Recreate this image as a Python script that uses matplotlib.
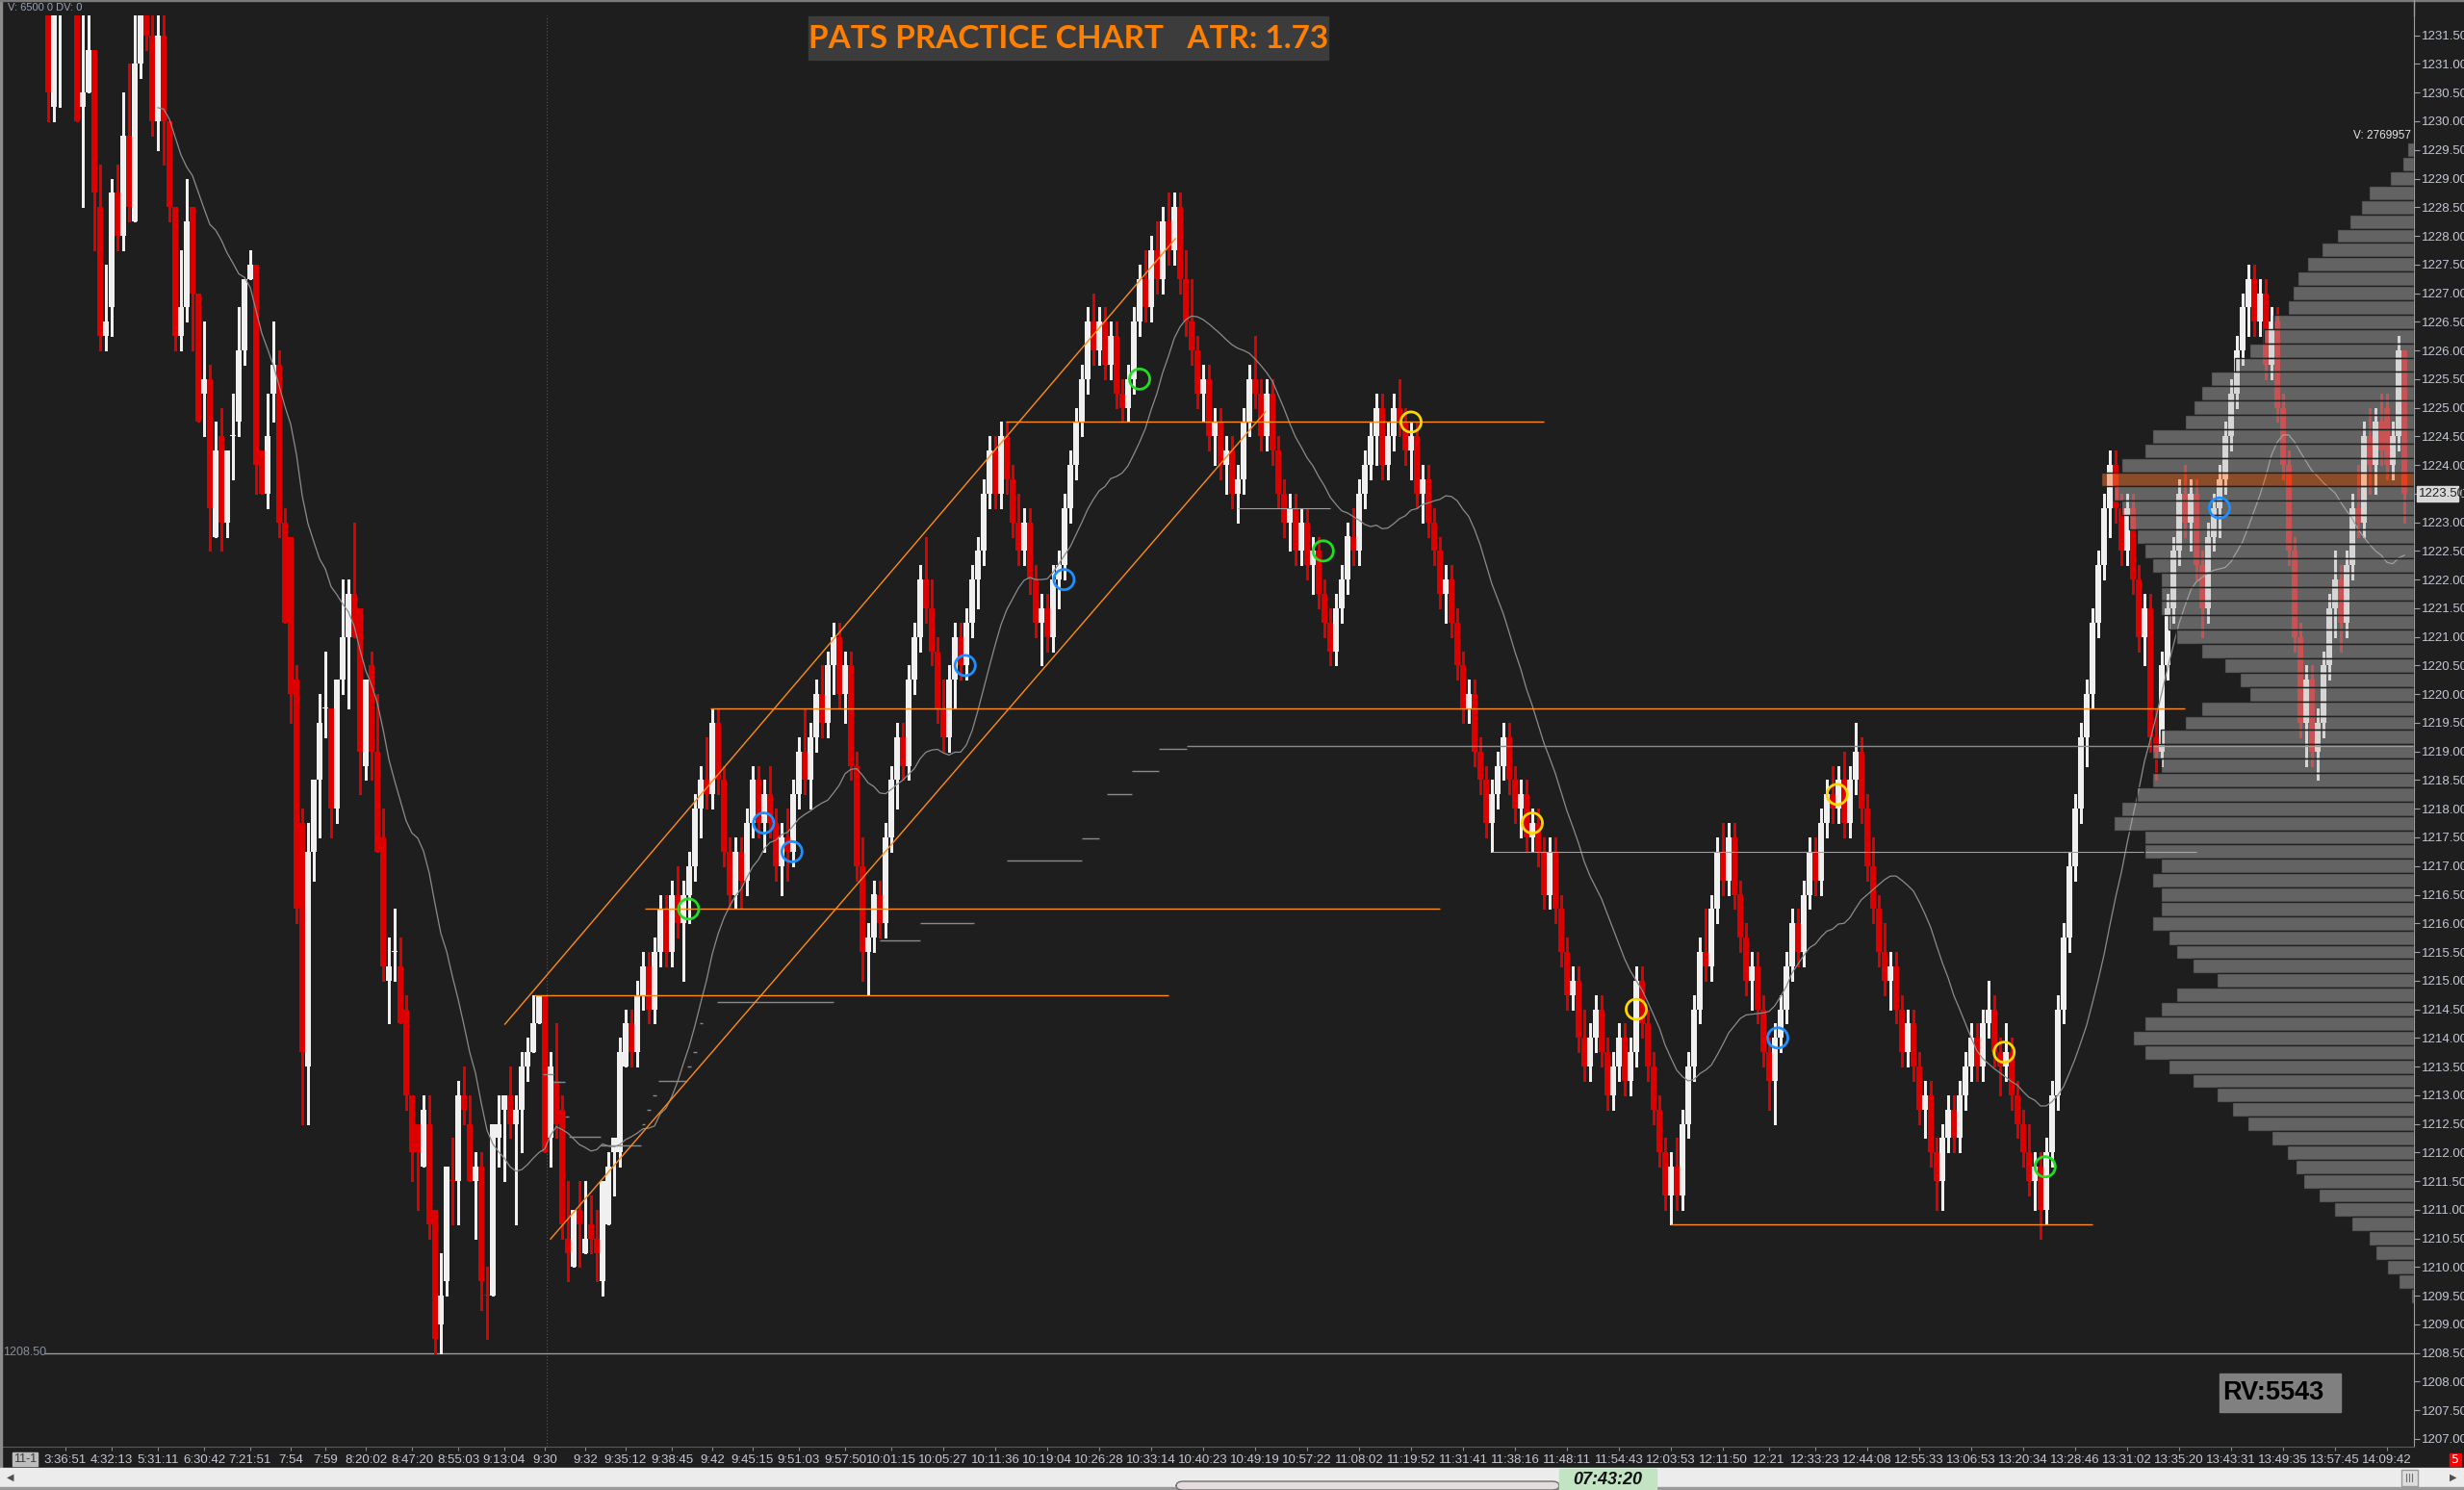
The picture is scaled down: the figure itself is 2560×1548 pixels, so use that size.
import numpy as np
import pandas as pd
import matplotlib
matplotlib.use("Agg")
import matplotlib.pyplot as plt
from matplotlib.patches import Rectangle, FancyBboxPatch

W, H = 2560, 1548
BG = '#1e1e1e'

# ---- candle data (bar index starts at first_bar) ----
first_bar = 8
opens = [1232.25, 1230.25, 1232.0, 1232.5, 1233.0, 1232.5, 1230.25, 1230.5, 1231.25, 1228.5,
         1226.25, 1226.75, 1228.75, 1228.0, 1229.75, 1228.25, 1231.0, 1232.0, 1231.5, 1230.0,
         1231.5, 1230.0, 1228.5, 1226.25, 1226.75, 1228.5, 1227.0, 1225.25, 1225.5, 1222.75,
         1224.5, 1223.0, 1224.5, 1224.75, 1226.0, 1227.25, 1227.5, 1224.25, 1223.5, 1225.25,
         1225.75, 1223.0, 1222.75, 1220.25, 1217.75, 1213.5, 1217.25, 1218.5, 1219.75, 1219.75,
         1218.0, 1220.25, 1221.0, 1221.75, 1221.5, 1218.75, 1220.5, 1219.0, 1217.5, 1215.0,
         1215.5, 1215.25, 1214.5, 1213.0, 1212.5, 1211.75, 1212.5, 1211.0, 1209.0, 1209.75,
         1211.5, 1211.5, 1213.0, 1212.5, 1211.5, 1211.75, 1209.5, 1209.5, 1212.25, 1212.75,
         1213.0, 1212.5, 1212.75, 1213.5, 1213.75, 1214.25, 1214.75, 1212.25, 1213.25, 1212.75,
         1210.5, 1210.0, 1211.0, 1210.25, 1210.75, 1210.5, 1209.75, 1210.75, 1212.0, 1212.0,
         1213.5, 1214.25, 1213.75,
         1214.75, 1215.25, 1214.5, 1215.5, 1216.25, 1215.5, 1216.5, 1216.0, 1216.5, 1217.0,
         1218.0, 1218.5, 1218.25, 1219.5, 1218.5, 1217.25, 1216.5, 1217.25, 1216.75, 1217.75,
         1218.5, 1217.75, 1218.25, 1217.75, 1217.0, 1217.5, 1217.25, 1218.25, 1219.0, 1218.5,
         1219.25, 1220.0, 1219.5, 1220.5, 1221.0, 1220.0, 1220.5, 1218.75, 1217.0, 1215.5,
         1215.75, 1216.5, 1216.0, 1217.5, 1218.5, 1219.25, 1218.75, 1220.25, 1221.0, 1222.0,
         1221.5, 1220.75, 1219.75, 1219.25, 1220.25, 1221.0, 1220.5, 1221.25, 1222.0, 1222.5,
         1223.5, 1224.25, 1223.5, 1224.5, 1223.75, 1223.0, 1222.5, 1223.0, 1222.0, 1221.25,
         1221.5, 1221.0, 1222.0, 1222.25, 1223.25, 1224.0, 1224.75, 1225.5, 1226.5, 1226.0,
         1226.5, 1225.75, 1226.25, 1225.25, 1225.0, 1225.5, 1226.5, 1227.25, 1226.75, 1227.75,
         1227.25, 1228.25, 1227.75, 1228.5, 1227.25, 1226.5, 1226.0, 1225.25, 1225.5, 1224.5,
         1224.75, 1224.0, 1224.25, 1223.5, 1223.75, 1224.75, 1225.5, 1225.25, 1224.5, 1225.25,
         1224.25, 1223.5, 1223.0, 1223.25, 1222.5, 1223.0, 1222.25, 1222.5, 1221.75, 1221.25,
         1220.75, 1221.5, 1222.0, 1222.75, 1222.5, 1223.5, 1224.0, 1224.5, 1225.0, 1224.0,
         1224.5, 1225.0, 1224.75, 1224.25, 1224.5, 1223.5, 1223.75, 1223.0, 1222.5, 1221.75,
         1222.0, 1221.25, 1220.5, 1219.75, 1220.0, 1219.0, 1218.5, 1217.75, 1218.25, 1218.75,
         1219.25, 1218.5, 1218.0, 1218.25, 1217.5, 1217.75, 1217.25, 1216.5, 1217.25, 1216.25,
         1215.5, 1214.75, 1215.0, 1214.0, 1213.5, 1214.0, 1214.5, 1213.75, 1213.0, 1213.5,
         1214.0, 1213.25, 1213.75, 1215.0, 1214.25, 1213.5, 1212.75, 1212.0, 1211.25, 1211.75,
         1211.25, 1212.5, 1213.5, 1214.5, 1215.5, 1215.25, 1216.25, 1217.25, 1216.75, 1217.5,
         1216.5, 1215.75, 1215.0, 1215.25, 1214.5, 1213.75, 1213.25, 1214.0, 1214.5, 1215.25,
         1216.0, 1215.5, 1216.5, 1217.25, 1216.75, 1217.75, 1218.25, 1218.0, 1218.5, 1217.75,
         1218.5, 1219.0, 1218.0, 1217.0, 1216.25, 1215.5, 1215.0, 1215.25, 1214.5, 1213.75,
         1214.25, 1213.5, 1212.75, 1213.0, 1212.0, 1211.5, 1212.25, 1212.75, 1212.25, 1213.0,
         1213.5, 1214.0, 1213.5, 1214.25, 1214.5, 1213.75, 1213.5, 1213.75, 1213.0, 1212.5,
         1212.0, 1211.5, 1211.75, 1211.0, 1212.0, 1213.0, 1214.5, 1215.75, 1217.0, 1218.0,
         1219.25, 1220.0, 1221.25, 1222.25, 1223.25, 1224.0, 1223.25, 1222.5, 1223.25, 1222.0,
         1221.0, 1221.5, 1219.25, 1219.0, 1220.5, 1221.5, 1222.5, 1223.5, 1223.0, 1223.5,
         1222.25, 1221.5, 1222.75, 1223.25, 1223.75, 1224.5, 1225.25, 1226.0, 1226.75, 1227.25,
         1226.5, 1227.0, 1225.75, 1226.5, 1225.0, 1224.0, 1222.5, 1221.0, 1219.5, 1220.25,
         1219.0, 1219.5, 1220.5, 1221.5, 1222.0, 1221.25, 1222.25, 1223.25, 1223.0, 1224.5,
         1224.0, 1224.75, 1225.0, 1224.0, 1224.5, 1226.0]
highs = [1232.5, 1232.25, 1232.75, 1233.25, 1233.25, 1232.75, 1232.0, 1232.0, 1231.25, 1229.25,
         1227.5, 1229.0, 1229.25, 1230.5, 1231.0, 1232.0, 1232.25, 1232.25, 1232.0, 1232.0,
         1232.0, 1230.0, 1228.5, 1227.75, 1229.0, 1228.5, 1227.0, 1226.5, 1225.75, 1224.75,
         1225.0, 1224.25, 1225.25, 1226.75, 1227.25, 1227.75, 1227.5, 1224.25, 1225.25, 1226.5,
         1226.0, 1223.25, 1222.75, 1220.5, 1218.0, 1217.75, 1218.5, 1220.0, 1220.75, 1219.75,
         1220.25, 1222.0, 1222.0, 1223.0, 1221.5, 1220.25, 1220.75, 1220.0, 1218.0, 1215.75,
         1216.25, 1215.75, 1214.75, 1213.0, 1212.5, 1213.0, 1213.0, 1211.0, 1210.25, 1211.75,
         1212.25, 1213.25, 1213.5, 1213.0, 1212.0, 1212.0, 1210.0, 1212.5, 1213.0, 1213.0,
         1213.5, 1213.0, 1213.75, 1214.0, 1214.75, 1214.75, 1214.75, 1213.75, 1214.25, 1213.0,
         1211.5, 1211.0, 1211.5, 1211.5, 1211.25, 1211.0, 1211.5, 1212.0, 1212.25, 1214.0,
         1214.5, 1214.5, 1215.0,
         1215.5, 1215.5, 1215.75, 1216.5, 1216.5, 1216.75, 1217.0, 1216.75, 1217.25, 1218.25,
         1218.75, 1219.25, 1219.75, 1219.75, 1218.75, 1217.5, 1217.5, 1217.5, 1218.0, 1218.75,
         1218.75, 1218.5, 1218.75, 1218.0, 1217.75, 1218.0, 1218.5, 1219.25, 1219.75, 1219.5,
         1220.25, 1220.5, 1220.75, 1221.25, 1221.25, 1220.75, 1220.75, 1219.0, 1217.5, 1216.0,
         1216.75, 1216.75, 1217.75, 1218.75, 1219.5, 1219.5, 1220.5, 1221.25, 1222.25, 1222.75,
         1222.0, 1221.0, 1220.25, 1220.5, 1221.25, 1221.25, 1221.5, 1222.25, 1222.75, 1223.75,
         1224.5, 1224.5, 1224.75, 1224.75, 1224.0, 1223.5, 1223.25, 1223.25, 1222.25, 1221.75,
         1221.75, 1222.25, 1222.5, 1223.5, 1224.25, 1225.0, 1225.75, 1226.75, 1227.0, 1226.75,
         1226.75, 1226.5, 1226.5, 1225.5, 1225.75, 1226.75, 1227.5, 1227.75, 1228.0, 1228.25,
         1228.5, 1228.75, 1228.75, 1228.75, 1227.75, 1227.25, 1226.25, 1225.75, 1225.75, 1225.0,
         1225.0, 1224.5, 1224.5, 1224.0, 1225.0, 1225.75, 1226.25, 1225.5, 1225.5, 1225.5,
         1224.5, 1223.75, 1223.5, 1223.5, 1223.25, 1223.25, 1222.75, 1222.75, 1222.0, 1221.5,
         1221.75, 1222.25, 1223.0, 1223.25, 1223.75, 1224.25, 1224.75, 1225.25, 1225.25, 1224.75,
         1225.25, 1225.5, 1225.0, 1224.75, 1224.75, 1224.0, 1224.0, 1223.25, 1222.75, 1222.25,
         1222.25, 1221.5, 1220.75, 1220.25, 1220.25, 1219.25, 1218.75, 1218.5, 1219.0, 1219.5,
         1219.5, 1218.75, 1218.5, 1218.5, 1218.0, 1218.0, 1217.5, 1217.5, 1217.5, 1216.5,
         1215.75, 1215.25, 1215.25, 1214.5, 1214.25, 1214.75, 1214.75, 1214.0, 1213.75, 1214.25,
         1214.25, 1214.0, 1215.25, 1215.25, 1214.5, 1213.75, 1213.0, 1212.25, 1212.0, 1212.25,
         1212.75, 1213.75, 1214.75, 1215.75, 1216.25, 1216.5, 1217.5, 1217.75, 1217.75, 1217.75,
         1216.75, 1216.0, 1215.5, 1215.5, 1214.75, 1214.0, 1214.25, 1214.75, 1215.5, 1216.25,
         1216.25, 1216.75, 1217.5, 1217.5, 1218.0, 1218.5, 1218.75, 1218.75, 1219.0, 1218.75,
         1219.5, 1219.25, 1218.25, 1217.5, 1216.5, 1216.0, 1215.5, 1215.5, 1214.75, 1214.5,
         1214.5, 1213.75, 1213.25, 1213.25, 1212.25, 1212.5, 1213.0, 1213.0, 1213.25, 1213.75,
         1214.25, 1214.25, 1214.5, 1215.0, 1214.75, 1214.0, 1214.25, 1214.0, 1213.25, 1212.75,
         1212.5, 1212.0, 1212.0, 1212.25, 1213.25, 1214.75, 1216.0, 1217.25, 1218.25, 1219.5,
         1220.25, 1221.5, 1222.5, 1223.5, 1224.25, 1224.25, 1223.5, 1223.5, 1223.5, 1222.25,
         1221.75, 1221.75, 1219.75, 1220.75, 1221.75, 1222.75, 1223.75, 1224.0, 1223.75, 1223.75,
         1222.5, 1223.0, 1223.5, 1224.0, 1224.75, 1225.5, 1226.25, 1227.0, 1227.5, 1227.5,
         1227.25, 1227.25, 1226.75, 1226.75, 1225.25, 1224.25, 1222.75, 1221.25, 1220.5, 1220.5,
         1219.75, 1220.75, 1221.75, 1222.5, 1222.25, 1222.5, 1223.5, 1224.0, 1224.75, 1225.0,
         1225.0, 1225.25, 1225.25, 1224.75, 1226.25, 1226.0]
lows = [1230.0, 1230.0, 1230.25, 1232.25, 1232.25, 1230.0, 1228.5, 1230.5, 1227.75, 1226.0,
        1226.0, 1226.25, 1227.75, 1227.75, 1228.25, 1228.25, 1230.75, 1231.25, 1229.75, 1229.5,
        1229.25, 1228.25, 1226.0, 1226.0, 1226.5, 1226.0, 1224.75, 1224.5, 1222.5, 1222.75,
        1222.5, 1222.75, 1223.75, 1224.5, 1225.75, 1227.25, 1223.5, 1223.5, 1223.25, 1224.75,
        1222.75, 1221.25, 1219.5, 1216.0, 1212.5, 1212.5, 1216.75, 1217.5, 1219.25, 1217.5,
        1217.75, 1220.0, 1219.75, 1221.0, 1218.25, 1218.5, 1218.5, 1217.25, 1215.0, 1214.25,
        1215.0, 1214.25, 1212.75, 1211.5, 1211.0, 1211.75, 1210.5, 1208.5, 1208.5, 1209.5,
        1210.75, 1210.75, 1212.5, 1211.5, 1210.5, 1209.25, 1208.75, 1209.5, 1211.75, 1211.5,
        1212.25, 1210.75, 1212.0, 1213.25, 1213.75, 1214.25, 1212.0, 1211.75, 1212.25, 1210.5,
        1209.75, 1210.0, 1210.0, 1210.25, 1210.25, 1209.75, 1209.5, 1210.75, 1211.25, 1211.75,
        1213.5, 1213.5, 1213.5,
        1214.5, 1214.25, 1214.25, 1215.25, 1215.25, 1215.25, 1215.75, 1215.0, 1216.0, 1216.75,
        1217.5, 1218.0, 1218.0, 1218.25, 1217.0, 1216.25, 1216.25, 1216.25, 1216.5, 1217.5,
        1217.5, 1217.25, 1217.5, 1216.75, 1216.5, 1216.75, 1217.0, 1218.0, 1218.25, 1218.0,
        1219.0, 1219.25, 1219.25, 1220.0, 1219.75, 1219.5, 1218.5, 1216.75, 1215.0, 1214.75,
        1215.5, 1215.75, 1215.75, 1217.25, 1218.0, 1218.5, 1218.5, 1220.0, 1220.75, 1221.25,
        1220.5, 1219.5, 1219.0, 1219.0, 1219.75, 1220.25, 1220.25, 1221.0, 1221.5, 1222.25,
        1223.25, 1223.25, 1223.25, 1223.5, 1222.75, 1222.25, 1222.25, 1221.75, 1221.0, 1220.5,
        1220.75, 1220.75, 1221.5, 1222.0, 1223.0, 1223.75, 1224.5, 1225.25, 1225.75, 1225.75,
        1225.5, 1225.5, 1225.0, 1224.75, 1224.75, 1225.25, 1226.25, 1226.5, 1226.5, 1227.0,
        1227.0, 1227.5, 1227.5, 1227.0, 1226.25, 1225.75, 1225.0, 1224.75, 1224.25, 1224.0,
        1223.75, 1223.5, 1223.25, 1223.0, 1223.5, 1224.5, 1225.0, 1224.25, 1224.25, 1224.0,
        1223.25, 1222.75, 1222.5, 1222.25, 1222.25, 1222.0, 1221.75, 1221.5, 1221.0, 1220.5,
        1220.5, 1221.25, 1221.75, 1222.25, 1222.25, 1223.25, 1223.75, 1224.0, 1223.75, 1223.75,
        1224.25, 1224.5, 1224.0, 1223.75, 1223.25, 1223.0, 1222.75, 1222.25, 1221.5, 1221.25,
        1221.0, 1220.25, 1219.5, 1219.5, 1218.75, 1218.25, 1217.5, 1217.25, 1218.0, 1218.5,
        1218.25, 1217.75, 1217.5, 1217.25, 1217.25, 1217.0, 1216.25, 1216.25, 1216.0, 1215.25,
        1214.5, 1214.5, 1213.75, 1213.25, 1213.25, 1213.75, 1213.5, 1212.75, 1212.75, 1213.25,
        1213.0, 1213.0, 1213.5, 1214.0, 1213.25, 1212.5, 1211.75, 1211.0, 1210.75, 1211.0,
        1211.0, 1212.25, 1213.25, 1214.25, 1215.0, 1215.0, 1216.0, 1216.5, 1216.5, 1216.25,
        1215.5, 1214.75, 1214.5, 1214.25, 1213.5, 1212.75, 1212.5, 1213.75, 1214.25, 1215.0,
        1215.25, 1215.25, 1216.25, 1216.5, 1216.5, 1217.5, 1217.75, 1217.75, 1217.5, 1217.5,
        1218.25, 1217.75, 1216.75, 1216.0, 1215.25, 1214.75, 1214.5, 1214.25, 1213.5, 1213.5,
        1213.25, 1212.5, 1212.25, 1211.75, 1211.0, 1211.0, 1212.0, 1212.0, 1212.0, 1212.75,
        1213.25, 1213.25, 1213.25, 1214.0, 1213.5, 1213.0, 1213.25, 1212.75, 1212.25, 1211.75,
        1211.25, 1211.0, 1210.5, 1210.75, 1211.75, 1212.75, 1214.25, 1215.5, 1216.75, 1217.75,
        1218.75, 1219.75, 1221.0, 1222.0, 1222.75, 1223.0, 1222.25, 1222.25, 1221.75, 1220.75,
        1220.5, 1219.0, 1218.5, 1218.75, 1220.25, 1221.25, 1222.25, 1222.75, 1222.5, 1222.0,
        1221.0, 1221.25, 1222.5, 1222.75, 1223.5, 1224.25, 1225.0, 1225.75, 1226.25, 1226.25,
        1226.25, 1225.5, 1225.5, 1224.75, 1223.75, 1222.25, 1220.75, 1219.25, 1218.75, 1218.75,
        1218.5, 1219.25, 1220.25, 1221.0, 1220.75, 1221.0, 1222.0, 1222.75, 1222.75, 1223.5,
        1223.5, 1224.0, 1223.75, 1223.75, 1224.25, 1223.0]
closes = [1230.5, 1232.0, 1232.5, 1233.0, 1232.5, 1230.0, 1230.5, 1231.25, 1228.75, 1226.25,
          1226.5, 1228.75, 1228.0, 1229.75, 1228.5, 1231.0, 1232.0, 1231.5, 1230.0, 1231.5,
          1230.0, 1228.5, 1226.25, 1226.75, 1228.25, 1227.0, 1224.75, 1225.5, 1223.25, 1224.25,
          1223.0, 1224.25, 1224.5, 1226.0, 1227.25, 1227.5, 1224.0, 1223.5, 1224.5, 1225.75,
          1223.0, 1221.25, 1220.0, 1216.25, 1213.75, 1217.25, 1218.5, 1219.5, 1219.75, 1218.0,
          1220.25, 1221.0, 1221.75, 1221.0, 1219.0, 1220.25, 1219.0, 1217.25, 1215.25, 1215.25,
          1215.5, 1214.25, 1213.0, 1212.0, 1212.0, 1212.75, 1210.75, 1208.75, 1209.5, 1211.75,
          1211.5, 1213.0, 1212.75, 1211.5, 1211.75, 1209.75, 1209.5, 1212.5, 1212.5, 1213.0,
          1212.5, 1212.75, 1213.5, 1213.75, 1214.25, 1214.75, 1212.0, 1213.5, 1212.5, 1210.75,
          1210.25, 1211.0, 1210.75, 1210.5, 1210.5, 1210.25, 1211.5, 1211.75, 1212.25, 1213.75,
          1214.25, 1213.75, 1214.75,
          1215.25, 1214.5, 1215.5, 1216.25, 1215.5, 1216.5, 1216.0, 1216.5, 1217.0, 1218.0,
          1218.5, 1218.25, 1219.5, 1218.5, 1217.25, 1216.5, 1217.25, 1216.75, 1217.75, 1218.5,
          1217.75, 1218.25, 1217.75, 1217.0, 1217.5, 1217.25, 1218.25, 1219.0, 1218.5, 1219.25,
          1220.0, 1219.5, 1220.5, 1221.0, 1220.0, 1220.5, 1218.75, 1217.0, 1215.5, 1215.75,
          1216.5, 1216.0, 1217.5, 1218.5, 1219.25, 1218.75, 1220.25, 1221.0, 1222.0, 1221.5,
          1220.75, 1219.75, 1219.25, 1220.25, 1221.0, 1220.5, 1221.25, 1222.0, 1222.5, 1223.5,
          1224.25, 1223.5, 1224.5, 1223.75, 1223.0, 1222.5, 1223.0, 1222.0, 1221.25, 1221.5,
          1221.0, 1222.0, 1222.25, 1223.25, 1224.0, 1224.75, 1225.5, 1226.5, 1226.0, 1226.5,
          1225.75, 1226.25, 1225.25, 1225.0, 1225.5, 1226.5, 1227.25, 1226.75, 1227.75, 1227.25,
          1228.25, 1227.75, 1228.5, 1227.25, 1226.5, 1226.0, 1225.25, 1225.5, 1224.5, 1224.75,
          1224.0, 1224.25, 1223.5, 1223.75, 1224.75, 1225.5, 1225.25, 1224.5, 1225.25, 1224.25,
          1223.5, 1223.0, 1223.25, 1222.5, 1223.0, 1222.25, 1222.5, 1221.75, 1221.25, 1220.75,
          1221.5, 1222.0, 1222.75, 1222.5, 1223.5, 1224.0, 1224.5, 1225.0, 1224.0, 1224.5,
          1225.0, 1224.75, 1224.25, 1224.5, 1223.5, 1223.75, 1223.0, 1222.5, 1221.75, 1222.0,
          1221.25, 1220.5, 1219.75, 1220.0, 1219.0, 1218.5, 1217.75, 1218.25, 1218.75, 1219.25,
          1218.5, 1218.0, 1218.25, 1217.5, 1217.75, 1217.25, 1216.5, 1217.25, 1216.25, 1215.5,
          1214.75, 1215.0, 1214.0, 1213.5, 1214.0, 1214.5, 1213.75, 1213.0, 1213.5, 1214.0,
          1213.25, 1213.75, 1215.0, 1214.25, 1213.5, 1212.75, 1212.0, 1211.25, 1211.75, 1211.25,
          1212.5, 1213.5, 1214.5, 1215.5, 1215.25, 1216.25, 1217.25, 1216.75, 1217.5, 1216.5,
          1215.75, 1215.0, 1215.25, 1214.5, 1213.75, 1213.25, 1214.0, 1214.5, 1215.25, 1216.0,
          1215.5, 1216.5, 1217.25, 1216.75, 1217.75, 1218.25, 1218.0, 1218.5, 1217.75, 1218.5,
          1219.0, 1218.0, 1217.0, 1216.25, 1215.5, 1215.0, 1215.25, 1214.5, 1213.75, 1214.25,
          1213.5, 1212.75, 1213.0, 1212.0, 1211.5, 1212.25, 1212.75, 1212.25, 1213.0, 1213.5,
          1214.0, 1213.5, 1214.25, 1214.5, 1213.75, 1213.5, 1213.75, 1213.0, 1212.5, 1212.0,
          1211.5, 1211.75, 1211.0, 1212.0, 1213.0, 1214.5, 1215.75, 1217.0, 1218.0, 1219.25,
          1220.0, 1221.25, 1222.25, 1223.25, 1224.0, 1223.25, 1222.5, 1223.25, 1222.0, 1221.0,
          1221.5, 1219.25, 1219.0, 1220.5, 1221.5, 1222.5, 1223.5, 1223.0, 1223.5, 1222.25,
          1221.5, 1222.75, 1223.25, 1223.75, 1224.5, 1225.25, 1226.0, 1226.75, 1227.25, 1226.5,
          1227.0, 1225.75, 1226.5, 1225.0, 1224.0, 1222.5, 1221.0, 1219.5, 1220.25, 1219.0,
          1219.5, 1220.5, 1221.5, 1222.0, 1221.25, 1222.25, 1223.25, 1223.0, 1224.5, 1224.0,
          1224.75, 1224.25, 1224.0, 1224.5, 1226.0, 1223.5]
red_dojis = [78, 84]

# ---- time axis ----
tick_bars = [11, 19, 27, 35, 43, 50, 56, 63, 71, 79, 87, 94, 101, 108, 116, 123, 130, 138, 146,
             154, 163, 172, 181, 190, 199, 208, 217, 226, 235, 244, 253, 262, 271, 280, 289,
             298, 306, 314, 323, 332, 341, 350, 359, 368, 377, 386, 395, 404, 413]
tick_labels = ['3:36:51', '4:32:13', '5:31:11', '6:30:42', '7:21:51', '7:54', '7:59', '8:20:02',
               '8:47:20', '8:55:03', '9:13:04', '9:30', '9:32', '9:35:12', '9:38:45', '9:42',
               '9:45:15', '9:51:03', '9:57:50', '10:01:15', '10:05:27', '10:11:36', '10:19:04',
               '10:26:28', '10:33:14', '10:40:23', '10:49:19', '10:57:22', '11:08:02', '11:19:52',
               '11:31:41', '11:38:16', '11:48:11', '11:54:43', '12:03:53', '12:11:50', '12:21',
               '12:33:23', '12:44:08', '12:55:33', '13:06:53', '13:20:34', '13:28:46', '13:31:02',
               '13:35:20', '13:43:31', '13:49:35', '13:57:45', '14:09:42']
session_bar = 94.4

# ---- volume profile (top level 1229.50, step 0.25 down) ----
profile_top = 1229.5
profile_vol = [7, 12, 25, 47, 55, 67, 80, 95, 110, 120, 125, 130, 145, 155, 170, 185, 210, 220,
               228, 237, 270, 278, 302, 323, 310, 302, 294, 286, 278, 270, 261, 261, 261, 253,
               245, 220, 196, 180, 170, 220, 237, 261, 270, 261, 270, 286, 302, 310, 278, 278,
               261, 270, 261, 261, 270, 253, 245, 229, 204, 245, 261, 278, 290, 278, 253, 229,
               204, 188, 172, 147, 131, 122, 114, 98, 82, 65, 47, 40, 28, 16, 3]
poc_price = 1223.75

# ---- drawn objects ----
orange_levels = [(92.2, 202, 1214.75), (111.3, 249, 1216.25), (122.7, 378, 1219.75),
                 (173.8, 267, 1224.75), (289, 362, 1210.75)]
grey_levels = [(258, 380, 1217.25), (214, 230, 1223.25)]
ladder = [(93.7, 95.5, 1213.37), (95.5, 97.5, 1213.24), (97.5, 98.2, 1212.63),
          (98.2, 103.6, 1212.27), (103.7, 110.7, 1212.13), (110.8, 111.4, 1212.5),
          (111.7, 112.3, 1212.75), (112.7, 113.3, 1213.0), (113.7, 118.5, 1213.25),
          (118.7, 119.3, 1213.5), (119.7, 120.3, 1213.75), (120.8, 121.4, 1214.25),
          (123.8, 144.0, 1214.63), (152.0, 159.0, 1215.7), (159.0, 168.4, 1216.0),
          (174.0, 187.0, 1217.1), (187.0, 190.0, 1217.48), (191.3, 195.6, 1218.25),
          (195.6, 200.3, 1218.66), (200.3, 205.2, 1219.05), (205.2, 417.7, 1219.1)]
channel = [((87.1, 1214.24), (203.2, 1227.95)), ((95.0, 1210.49), (218.8, 1224.93))]
circle_n = [118.9, 197, 228.8, 353.8, 131.9, 136.8, 166.8, 183.9, 307.5, 384,
            244, 265, 283, 317.8, 346.7]
circle_p = [1216.25, 1225.5, 1222.5, 1211.75, 1217.75, 1217.25, 1220.5, 1222.0, 1214.0, 1223.25,
            1224.75, 1217.75, 1214.5, 1218.25, 1213.75]
circle_c = ['#22dd22'] * 4 + ['#1e90ff'] * 6 + ['#ffd700'] * 5


def fx(x):
    return x / W


def fy(y):
    return 1 - y / H


fig = plt.figure(figsize=(W / 100, H / 100), dpi=100)
fig.patch.set_facecolor(BG)
ax = fig.add_axes([2 / W, 45 / H, 2506 / W, 1487 / H])
ax.set_facecolor(BG)
xr = 2506 / 6
ax.set_xlim(0, xr)
ax.set_ylim(1231.5 - (1503 - 36.7) / 59.52, 1231.5 + (36.7 - 16) / 59.52)

# candles
o = np.array(opens)
h = np.array(highs)
l = np.array(lows)
c = np.array(closes)
idx = np.arange(first_bar, first_bar + len(c))
cols = np.where(c >= o, '#f0f0f0', '#dc0000').astype(object)
for k in red_dojis:
    cols[k - first_bar] = '#dc0000'
ax.vlines(idx, l, h, colors=list(cols), lw=0.75, zorder=2, antialiased=False)
ax.bar(idx, np.maximum(np.abs(c - o), 0.02), bottom=np.minimum(o, c), width=0.86,
       color=list(cols), lw=0, zorder=3, antialiased=False)

# moving average
sma = pd.Series(c).rolling(20).mean()
ax.plot(idx, sma, color='#8c8c8c', lw=0.9, zorder=4)

# session line
ax.axvline(session_bar, color='#5a5a5a', lw=0.8, ls=(0, (1, 2)), zorder=1)

# levels
ax.hlines(1208.5, 44 / 6, xr, color='#9a9a9a', lw=1, zorder=1)
for a, b, p in ladder:
    ax.hlines(p, a, b, color='#8a8a8a', lw=1, zorder=4)
for a, b, p in orange_levels:
    ax.hlines(p, a, b, color='#ff8c1a', lw=1, zorder=5)
for a, b, p in grey_levels:
    ax.hlines(p, a, b, color='#a0a0a0', lw=0.8, zorder=5)
for (a, pa), (b, pb) in channel:
    ax.plot([a, b], [pa, pb], color='#ff8c1a', lw=1, zorder=5)

# volume profile (semi-transparent, over the candles)
levels = profile_top - 0.25 * np.arange(len(profile_vol))
vol = np.array(profile_vol, dtype=float)
lens = vol / vol.max() * 325 / 6
pcol = [(248 / 255, 122 / 255, 54 / 255, 0.5) if abs(p - poc_price) < 1e-6
        else (0.72, 0.72, 0.72, 0.45) for p in levels]
ax.barh(levels, -lens, left=xr, height=0.25, color=pcol, edgecolor='#222222', lw=1, zorder=6)

# signal circles
ax.scatter(circle_n, circle_p, s=230, facecolors='none', edgecolors=circle_c, linewidths=2,
           zorder=7)

# axes styling
for s in ['left', 'top']:
    ax.spines[s].set_visible(False)
ax.spines['right'].set_color('#a0a0a0')
ax.spines['bottom'].set_color('#5a5a5a')
yt = np.arange(1207.0, 1231.51, 0.5)
ax.set_yticks(yt)
ax.set_yticklabels(['%.2f' % v for v in yt])
ax.yaxis.tick_right()
ax.tick_params(axis='y', direction='out', length=4, color='#a0a0a0', labelcolor='#c4c8d4',
               labelsize=9.5, pad=2)
ax.set_xticks(tick_bars)
ax.set_xticklabels(tick_labels)
ax.tick_params(axis='x', direction='out', length=3, color='#8a8a8a', labelcolor='#c4c8d4',
               labelsize=9.5, pad=3)
for lbl in ax.get_xticklabels() + ax.get_yticklabels():
    lbl.set_family(['Liberation Sans Narrow', 'Liberation Sans', 'DejaVu Sans'])

# current price tag
tag_y = 36.7 + (1231.5 - 1223.5) * 59.52
fig.patches.append(Rectangle((fx(2511), fy(tag_y + 8)), 43 / W, 16 / H, transform=fig.transFigure,
                             color='#d8d8d8', zorder=5))
fig.text(fx(2513), fy(tag_y), '1223.50', color='#202020', fontsize=9.5, va='center',
         family=['Liberation Sans Narrow', 'Liberation Sans'], zorder=6)

# frame borders
fig.patches.append(Rectangle((0, 0), 2 / W, 1, transform=fig.transFigure, color='#8c8c8c'))
fig.patches.append(Rectangle((0, fy(1)), 1, 1 / H, transform=fig.transFigure, color='#7a7a7a'))
fig.lines.append(plt.Line2D([fx(2508), fx(2508)], [fy(0), fy(16)], transform=fig.transFigure,
                            color='#a0a0a0', lw=1))

# texts
fig.text(fx(8), fy(8), 'V: 6500 0 DV: 0', color='#9aa2b4', fontsize=8, va='center',
         family=['Liberation Sans'])
fig.text(fx(3), fy(1405), '1208.50', color='#8890a0', fontsize=9, va='center',
         family=['Liberation Sans Narrow', 'Liberation Sans'])
fig.text(fx(2445), fy(141), 'V: 2769957', color='#e6e6e6', fontsize=8.5, va='center',
         family=['Liberation Sans'])

fig.patches.append(Rectangle((fx(840), fy(62)), 540 / W, 45 / H, transform=fig.transFigure,
                             color='#3c3c3c'))
fig.text(fx(1110), fy(40), 'PATS PRACTICE CHART   ATR: 1.73', color='#ff8000', fontsize=24,
         fontweight='bold', family=['Lato', 'DejaVu Sans'], ha='center', va='center')

fig.patches.append(Rectangle((fx(2306), fy(1467)), 126 / W, 40 / H, transform=fig.transFigure,
                             color='#808080'))
fig.text(fx(2309), fy(1447), 'RV:5543', color='#000000', fontsize=19.5, fontweight='bold',
         va='center', family=['Liberation Sans'])

# bottom bar
fig.patches.append(Rectangle((fx(13), fy(1523)), 26 / W, 14 / H, transform=fig.transFigure,
                             color='#bdbdbd'))
fig.text(fx(26), fy(1516), '11-1', color='#3a3a3a', fontsize=9, ha='center', va='center',
         family=['Liberation Sans Narrow', 'Liberation Sans'])
fig.patches.append(Rectangle((fx(2545), fy(1523)), 12 / W, 13 / H, transform=fig.transFigure,
                             color='#ff0000'))
fig.text(fx(2551), fy(1516), '5', color='#ffffff', fontsize=9, ha='center', va='center')
fig.patches.append(Rectangle((0, 0), 1, 23 / H, transform=fig.transFigure, color='#ececec'))
fig.patches.append(Rectangle((0, 0), 1, 3 / H, transform=fig.transFigure, color='#9a9a9a'))
fig.text(fx(11), fy(1535), '\u25c0', color='#505050', fontsize=7, ha='center', va='center')
fig.text(fx(2549), fy(1535), '\u25b6', color='#505050', fontsize=7, ha='center', va='center')
fig.patches.append(FancyBboxPatch((fx(1222), fy(1548)), (1620 - 1222) / W, 9 / H,
                                  boxstyle='round,pad=0,rounding_size=0.003',
                                  transform=fig.transFigure, facecolor='#e4dcdc',
                                  edgecolor='#6e6e6e', lw=1))
fig.patches.append(Rectangle((fx(1620), fy(1548)), 101 / W, 22 / H, transform=fig.transFigure,
                             color='#c2e4c2'))
fig.text(fx(1670), fy(1538), '07:43:20', color='#111111', fontsize=13, fontweight='bold',
         style='italic', ha='center', va='center', family=['Liberation Sans Narrow', 'Liberation Sans'])
fig.patches.append(Rectangle((fx(2495), fy(1544)), 17 / W, 17 / H, transform=fig.transFigure,
                             facecolor='#dedede', edgecolor='#9a9a9a', lw=1))
for xx in [2500, 2503, 2506]:
    fig.lines.append(plt.Line2D([fx(xx), fx(xx)], [fy(1539), fy(1531)], transform=fig.transFigure,
                                color='#707070', lw=0.8))

fig.savefig('out.png', dpi=100, facecolor=BG)
